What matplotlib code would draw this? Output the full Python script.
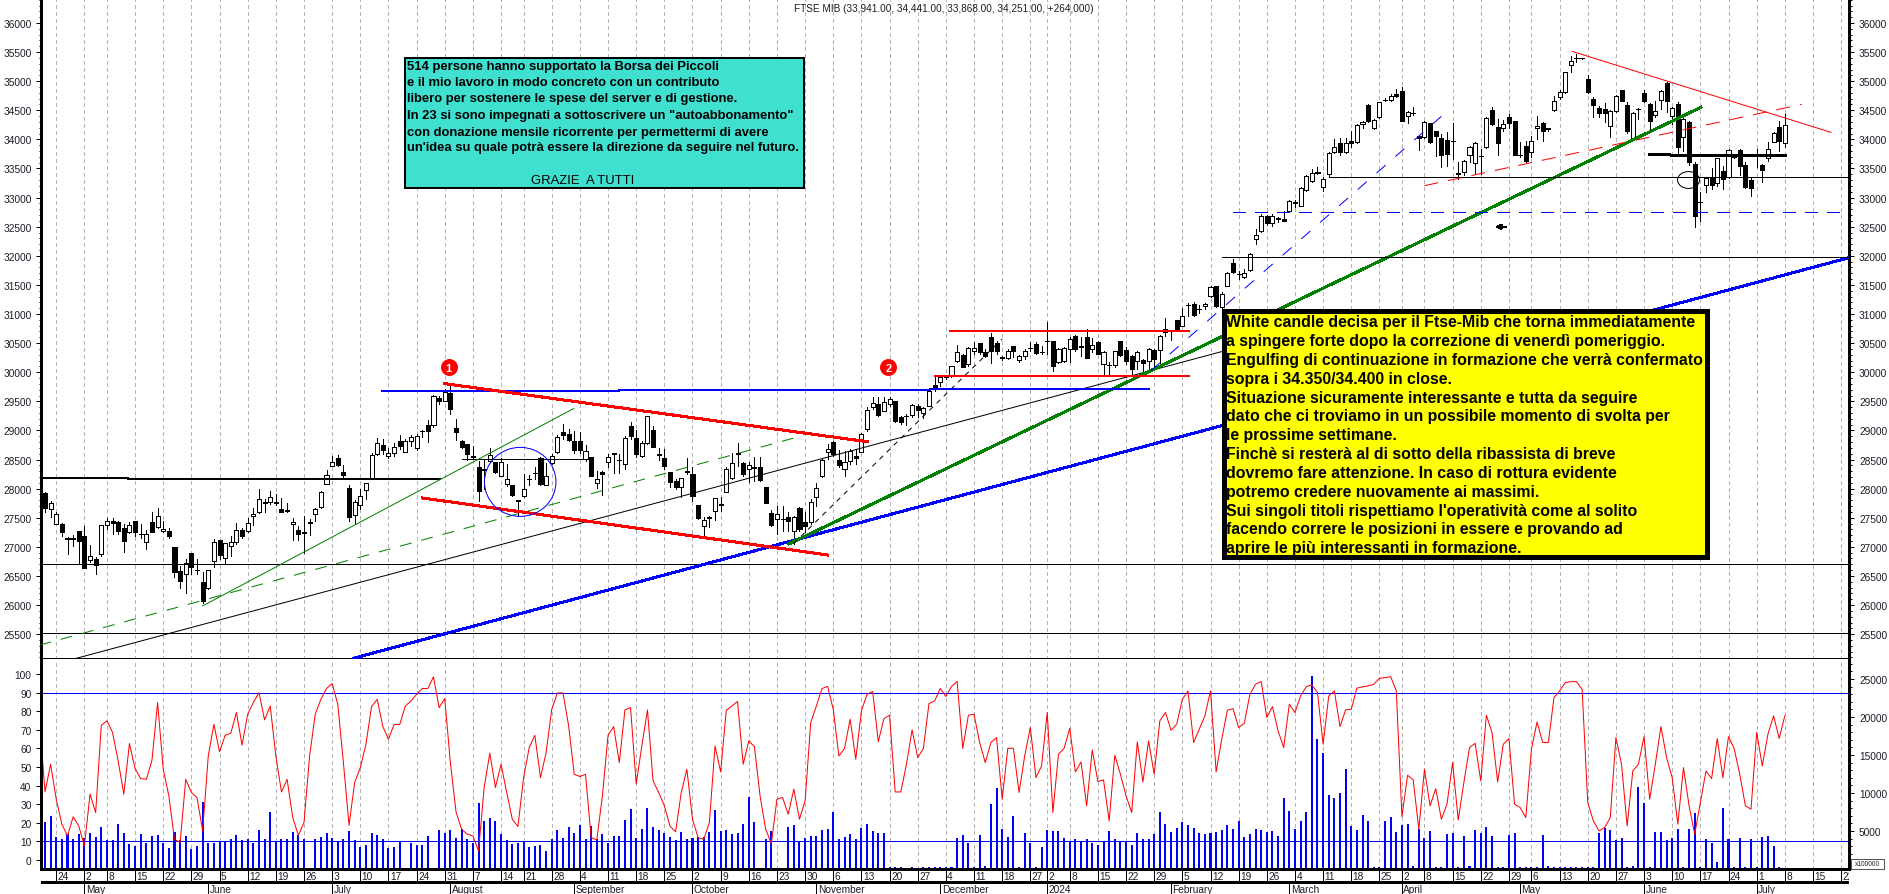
import numpy as np
from matplotlib import pyplot as plt
from matplotlib.patches import Ellipse, Rectangle

plt.rcParams['font.family'] = ['Liberation Sans', 'DejaVu Sans']
plt.rcParams['lines.antialiased'] = False
plt.rcParams['patch.antialiased'] = False

title = 'FTSE MIB (33,941.00, 34,441.00, 33,868.00, 34,251.00, +264,000)'

opens = [27930,27650,27400,27400,27150,27130,27270,27190,26780,26790,
    26880,27375,27445,27430,27330,27260,27450,27225,27075,27420,
    27340,27280,27270,26995,26585,26530,26890,26610,26400,26300,
    26760,27110,26800,27015,27075,27290,27275,27530,27590,27770,
    27770,27745,27650,27630,27385,27290,27255,27420,27570,27685,
    28085,28390,28520,28280,28005,27550,27720,27985,28190,28590,
    28755,28560,28620,28810,28635,28810,28705,28985,29100,29100,
    29550,29505,29640,29050,28825,28765,28560,28380,28335,28475,
    28450,28220,28075,28060,27800,27865,28160,28270,28520,28070,
    28435,28630,28980,28945,28825,28815,28515,28545,28105,28290,
    28450,28600,28495,28420,29080,28875,28555,28785,29007,28585,
    28520,28280,28137,28020,28300,28250,27720,27352,27520,27621,
    27730,27948,28177,28590,28440,28337,28370,28366,28022,27581,
    27478,27480,27507,27278,27662,27421,27432,27862,28223,28624,
    28795,28486,28337,28469,28566,28635,29024,29408,29454,29340,
    29454,29500,29225,29254,29271,29425,29299,29425,29780,29838,
    29920,29929,30187,30296,30141,30370,30496,30353,30599,30496,
    30256,30239,30456,30210,30273,30422,30485,30353,30536,30531,
    30170,30193,30399,30616,30445,30611,30399,30525,30141,30130,
    30124,30536,30382,30285,30187,30216,30199,30388,30382,30685,
    30710,30897,30800,31155,31172,31086,31132,31315,31475,31114,
    31487,31871,31687,31636,31762,32289,32432,32684,32563,32644,
    32632,32775,32918,32861,33136,33279,33434,33176,33405,33789,
    33932,33778,33978,33950,34259,34591,34196,34379,34683,34683,
    34786,34826,34396,34453,34064,34035,34276,34138,34018,33990,
    33972,33417,33434,33737,33589,33720,33864,34505,34207,34190,
    34390,34310,33732,33892,33778,34195,34282,34190,34505,34723,
    34808,35284,35398,35395,35037,34694,34539,34522,34236,34494,
    34849,34591,34007,34522,34791,34602,34425,34683,34969,34407,
    34608,34035,34304,33577,32921,33216,33348,33245,33463,33348,
    33709,33818,33566,33308,33738,33560,33674,33961,34207,33941]
closes = [27660,27760,27560,27260,27130,27160,27100,26640,26850,26690,
    27370,27440,27410,27270,27100,27375,27255,27215,27220,27255,
    27530,27315,27190,26560,26415,26730,26645,26600,26070,26600,
    27075,26855,27060,27075,27290,27190,27415,27570,27830,27760,
    27860,27770,27590,27610,27420,27220,27245,27410,27645,27945,
    28240,28465,28400,28230,27515,27775,27880,28090,28570,28780,
    28665,28610,28720,28735,28825,28880,28905,28990,28990,29590,
    29500,29660,29375,28975,28715,28590,28550,27960,28325,28580,
    28290,28450,28170,27885,27790,27995,28170,28260,28080,28225,
    28560,28895,28920,28835,28665,28660,28650,28220,28170,28255,
    28535,28605,28490,28875,28900,28595,28785,29240,28720,28600,
    28395,28120,28035,28177,28280,27880,27495,27460,27500,27833,
    27720,28338,28440,28610,28250,28412,28360,28154,27753,27375,
    27570,27470,27450,27518,27307,27352,27776,28005,28497,28687,
    28595,28412,28452,28652,28520,28944,29351,29471,29271,29494,
    29540,29168,29150,29240,29437,29351,29385,29683,29740,29912,
    29915,30101,30342,30084,30410,30422,30342,30285,30370,30370,
    30250,30370,30359,30273,30359,30416,30325,30347,30530,30113,
    30399,30422,30571,30399,30439,30244,30468,30313,30342,30125,
    30359,30296,30187,30055,30353,30158,30399,30227,30628,30742,
    30700,30731,30960,31150,30983,31086,31172,31458,31132,31344,
    31699,31716,31681,31704,32031,32363,32689,32563,32689,32640,
    32592,32947,32912,33159,33365,33417,33428,33319,33760,33875,
    33789,33938,33944,34253,34293,34322,34339,34637,34677,34751,
    34751,34322,34465,34447,34030,34304,33950,34052,33732,33749,
    33966,33411,33634,33875,33932,33720,34367,34264,33938,34259,
    34282,33738,33732,33623,33978,34236,34150,34170,34654,34808,
    35152,35352,35393,35390,34820,34596,34448,34453,34494,34751,
    34665,34150,34448,34520,34654,34310,34493,34826,34665,34534,
    33864,34350,33606,32678,32921,33331,33222,33674,33319,33823,
    33703,33548,33176,33159,33732,33480,33835,34104,33978,34251]
highs = [27940,27780,27590,27410,27170,27210,27280,27350,27030,26820,
    27380,27500,27500,27440,27390,27430,27450,27390,27290,27600,
    27670,27445,27325,27005,26670,26790,26890,26790,26560,26600,
    27130,27120,27060,27190,27405,27330,27500,27660,27990,27830,
    27960,27900,27840,27750,27500,27360,27530,27475,27675,27960,
    28320,28560,28575,28410,28065,27800,27990,28105,28610,28875,
    28850,28700,28790,28920,28850,28920,28935,29000,29180,29605,
    29595,29710,29795,29190,28830,28765,28730,28475,28505,28690,
    28460,28520,28420,28060,27810,28250,28230,28380,28535,28435,
    28590,28920,29105,29020,28990,28965,28745,28550,28305,28305,
    28600,28620,28590,28905,29140,29000,28825,29255,29080,28700,
    28680,28280,28165,28183,28520,28366,27720,27507,27535,27839,
    27850,28366,28612,28784,28452,28452,28538,28538,28022,27638,
    27696,27696,27593,27535,27679,27593,27822,28091,28520,28767,
    28824,28664,28652,28681,28681,28950,29397,29568,29568,29568,
    29580,29511,29254,29282,29454,29454,29408,29723,29912,29952,
    29930,30113,30468,30313,30428,30513,30496,30399,30668,30542,
    30285,30399,30456,30296,30399,30513,30513,30456,30857,30542,
    30416,30439,30599,30639,30599,30743,30582,30530,30359,30170,
    30370,30542,30428,30296,30370,30227,30410,30399,30639,30926,
    30725,30897,31097,31183,31212,31155,31189,31487,31475,31372,
    31716,31945,31745,31773,32043,32460,32718,32700,32718,32672,
    32775,32964,32959,33176,33388,33491,33520,33360,33778,34007,
    34018,34018,34150,34264,34310,34608,34350,34648,34711,34780,
    34866,34895,34493,34551,34064,34322,34282,34150,34093,34121,
    34282,33606,33646,33892,33949,33835,34379,34551,34350,34339,
    34436,34322,33949,33978,34064,34407,34293,34200,34751,34848,
    35164,35438,35467,35400,35106,34723,34579,34625,34511,34763,
    34855,34637,34465,34534,34854,34619,34665,34854,34980,34551,
    34637,34362,34322,33606,33102,33348,33503,33686,33548,33835,
    33720,33835,33606,33348,33835,33577,33961,34121,34322,34441]
lows = [27600,27510,27390,27180,26870,27010,26710,26640,26740,26530,
    26840,27300,27220,27220,26910,27235,27190,27150,26970,27255,
    27330,27255,27150,26490,26300,26205,26530,26530,26040,26280,
    26655,26785,26720,26845,27045,27150,27255,27370,27580,27590,
    27730,27715,27590,27590,27110,27115,26900,27200,27445,27675,
    28075,28390,28390,28200,27445,27385,27650,27830,28170,28575,
    28600,28530,28560,28680,28630,28735,28665,28880,28800,29065,
    29450,29505,29280,28840,28705,28490,28530,27790,27990,28450,
    28275,28210,28045,27875,27530,27850,28070,28170,28070,28065,
    28420,28620,28850,28820,28620,28620,28480,28220,28005,27890,
    28365,28275,28275,28335,28850,28550,28540,28770,28710,28500,
    28335,28022,27995,27850,28250,27793,27478,27180,27335,27461,
    27610,27936,28165,28395,28223,28108,28137,28125,27753,27364,
    27220,27278,27278,27049,27278,27249,27392,27707,28194,28510,
    28567,28366,28223,28423,28423,28623,28996,29368,29254,29328,
    29425,29139,29110,29093,29225,29225,29208,29425,29683,29757,
    29880,29912,30170,30084,30113,30313,30313,30256,30158,30313,
    30216,30227,30256,30170,30227,30370,30313,30313,30313,30027,
    30158,30170,30181,30370,30284,30244,30342,30313,29952,29952,
    30084,30285,30141,29970,30055,29970,30027,30084,30141,30628,
    30560,30731,30788,30971,30971,31012,31086,31286,31114,31097,
    31475,31704,31601,31613,31745,32203,32415,32530,32518,32575,
    32592,32764,32833,32850,33119,33262,33405,33119,33365,33766,
    33738,33766,33864,33932,34190,34304,34179,34368,34654,34654,
    34734,34310,34282,34419,33823,34018,33938,33720,33531,33548,
    33663,33319,33388,33606,33422,33405,33852,34247,33738,34150,
    34190,33732,33692,33606,33703,34007,33978,34150,34493,34694,
    34791,35164,35324,35385,34797,34379,34379,34293,34047,34476,
    34654,34104,33995,34350,34637,34150,34379,34522,34465,34264,
    33732,33806,33566,32489,32604,33102,33148,33205,33148,33337,
    33686,33388,33159,33033,33520,33274,33634,33949,33795,33868]

# first value belongs to the bar before the chart starts
osc = [76,
    36.6,51.5,32.7,19.2,12.9,23.2,18.3,7.5,35.4,25.5,
    72.5,74.9,68.6,53.3,35.4,62.7,49.2,43.8,43.4,53.7,
    84.7,48.8,34.5,11.1,9.3,43.4,36.3,33.6,15.6,56,
    73,58.2,67.1,68.2,79.4,61.8,78.5,84.7,90.1,75.4,
    82.9,56,36.6,43.4,22.8,13.3,20.1,56,78.5,86.5,
    92.3,95,83.8,52.4,18.7,41.7,49.7,62.3,82.6,86.5,
    71.8,65,72.9,72.9,82.9,85.6,89.2,92.3,92.3,98.6,
    82,86.9,52.4,25.9,16.5,13.8,12.9,4.8,39,57.5,
    39,51.5,36.3,21.9,18,44.3,60.5,67.1,44.3,57.8,
    81.1,89.9,89.9,72.2,46.1,44.9,46.1,12,10.8,34.5,
    67.1,71.8,52.4,80.8,82,
    40.8,61.4,80.8,42.5,36.3,29.1,18.3,15.1,36.3,48.8,
    21.9,12,11.1,20.1,61.4,47.4,80.6,82.9,85.3,51.5,
    64.1,61,34.5,16.5,8.8,32.7,33.6,24.6,38.1,21.9,
    31.8,74,82.9,92.3,93.4,81.1,56,60,75.8,54.2,
    80.3,89.2,90.7,63.6,76.1,77.9,36.6,36.6,51.5,70,
    55.1,60,84.2,85.6,92.3,88,93.4,96.1,60,77.9,
    78.5,63.2,52.4,63.2,65.9,32.7,60.1,60.1,36.3,56,
    71.3,44.3,50.6,79.4,25.5,56.9,60.1,70.9,47.4,52.8,
    29.1,59.2,42.2,43.1,21,56.4,46.1,34.5,25.5,63.6,
    42,64.1,46.1,74.9,79.4,69.8,73.1,86.5,91,63.2,
    70.4,77.6,91,47.4,65,80.6,81.5,71.3,73.6,89.2,
    94.6,96.1,
    76.7,82.6,69.5,60.5,83.8,79.4,88.3,93.2,94.3,90.1,
    62.3,88.3,91,71.8,80.8,81.1,92.5,93.2,93.7,94.6,
    97.8,98.2,98.7,91,23.2,45.6,43.1,16.5,48.8,29.1,
    38.4,21.9,30,52.4,21.5,41.7,60.5,62.8,42.5,77.9,
    68.6,42,62.3,65.4,30,28.2,22.8,59.6,74.3,63.2,
    63.2,87.4,91,95.5,96,96,91.9,30.9,21,15.6,
    17.4,22.8,65.9,51.5,18.3,47.9,51.5,66.4,32.7,51.5,
    71.8,55.1,44.3,19.2,49.7,29.1,13.8,30.9,47.9,43.8,
    65.4,44.3,66.4,60,46.1,29.1,27.3,68.6,50.6,67.7,
    77.6,65.4,77.6]

volume = [6195,6990,4200,3980,4650,3890,4650,4115,4780,4200,
    5530,3760,3760,5885,4735,3230,3010,4650,3410,4340,
    4425,3450,2745,4870,3760,4290,2655,3010,8760,3450,
    3450,3670,3670,3980,4425,3850,3980,3410,5130,3980,
    7520,3670,3980,3980,4870,4425,3980,90,3890,4250,
    4780,4070,3670,3940,5000,3760,2920,3190,4780,4510,
    3980,2790,2920,3670,90,3360,3190,3140,4340,90,
    5130,4780,5130,4115,5310,3980,3450,8630,6370,6770,
    6370,4600,3850,3320,3360,3670,2920,3050,3140,2430,
    3980,5180,4115,5530,4690,5840,3980,5660,3980,4600,
    3360,4340,4340,6500,7830,4070,5310,7965,5575,5180,
    4735,4250,3760,4870,3890,4070,4160,4160,4870,7700,
    5000,5180,4650,4780,5975,9425,6195,130,3980,5045,
    90,130,5575,5840,3670,4115,4380,4380,5180,5310,
    7520,3940,4200,4600,3940,5440,5975,5000,4780,4780,
    220,220,220,180,220,180,220,270,220,220,
    220,270,4115,4470,3450,270,4510,350,8585,10620,
    5310,4250,6990,270,4780,3410,270,2920,5090,5045,
    5000,4115,3670,3940,3670,3890,3360,3190,3540,5000,
    3980,3670,3670,3100,4780,3980,3940,4650,7520,5975,
    4870,5400,6195,5840,5400,4780,4600,4780,4910,5180,
    5750,5310,6370,4250,4600,5310,5180,4910,5000,4340,
    9290,7570,5265,6280,7520,25440,17080,15220,9780,9290,
    10045,13100,5660,5180,7170,6370,270,310,6370,6860,
    4870,5840,5975,350,5310,4115,5045,220,270,4650,
    4780,270,4340,400,5130,4780,5575,4380,220,270,
    4510,4780,270,270,270,270,4510,350,270,270,
    270,270,270,270,270,270,4780,5400,5130,3850,
    4115,270,400,10750,8720,270,4910,4910,3850,4115,
    5310,270,5310,7430,270,3980,3410,890,8050,3980,
    270,4115,270,3980,270,4250,4340,3010,270,130]

week_bars = [2,7,11,16,21,26,31,36,41,46,51,56,61,66,71,76,81,85,90,95,
    100,105,110,115,120,125,130,135,140,145,150,155,160,165,170,175,178,182,187,192,
    197,202,207,212,217,222,227,232,237,241,245,250,255,260,264,269,274,279,284,289,
    294,299,304,309,314,319]
week_labels = [24,2,8,15,22,29,5,12,19,26,3,10,17,24,31,7,14,21,28,4,
    11,18,25,2,9,16,23,30,6,13,20,27,4,11,18,27,2,8,15,22,
    29,5,12,19,26,4,11,18,25,2,8,15,22,29,6,13,20,27,3,10,
    17,24,1,8,15,22]
month_bars = [7,29,51,72,94,115,137,159,178,200,221,241,262,284,304]
month_labels = ['May','June','July','August','September','October','November','December',
    '2024','February','March','April','May','June','July']

# drawn lines: bars, prices, colour, width in px, dash on/off in px
trend_lines = [
    ([-1,14.8,14.8,70.2], [28185,28185,28162,28162], 'black', 2, None),
    ([-1,321], [26713,26713], 'black', 1, None),
    ([-1,321], [25520,25520], 'black', 1, None),
    ([74,96], [28517,28517], 'black', 1, None),
    ([28,93.9], [25985,29376], 'green', 1, None),
    ([-1,133.9], [25310,28893], 'green', 1, (12,10)),
    ([5.6,209.6], [25086,30370], 'black', 1, None),
    ([54.8,320.6], [25086,31973], 'blue', 2, None),
    ([132.1,294.1], [27049,34551], 'green', 2, None),
    ([59.8,101.9,101.9,157.1,157.1,196.1], [29674,29674,29690,29690,29712,29712], 'blue', 2, None),
    ([70.9,146], [29805,28807], 'red', 2, None),
    ([67,139], [27840,26860], 'red', 2, None),
    ([160.8,203.1], [30708,30708], 'red', 2, None),
    ([158,203.1], [29935,29935], 'red', 2, None),
    ([133,170], [27060,30571], 'black', 1, (5,5)),
    ([196.4,248], [30027,34396], 'blue', 1, (12,13)),
    ([209,321], [31974,31974], 'black', 1, None),
    ([228,321], [33348,33348], 'black', 1, None),
    ([211,321], [32747,32747], 'blue', 1, (12,10)),
    ([285,309.2], [33734,33720], 'black', 2, None),
    ([271.2,317.2], [35513,34121], 'red', 1, None),
    ([245,312], [33205,34602], 'red', 1, (14,10)),
]

cyan_lines = ['514 persone hanno supportato la Borsa dei Piccoli',
    'e il mio lavoro in modo concreto con un contributo',
    'libero per sostenere le spese del server e di gestione.',
    'In 23 si sono impegnati a sottoscrivere un "autoabbonamento"',
    'con donazione mensile ricorrente per permettermi di avere',
    "un'idea su quale potrà essere la direzione da seguire nel futuro."]
yellow_lines = ['White candle decisa per il Ftse-Mib che torna immediatamente',
    'a spingere forte dopo la correzione di venerdì pomeriggio.',
    'Engulfing di continuazione in formazione che verrà confermato',
    'sopra i 34.350/34.400 in close.',
    'Situazione sicuramente interessante e tutta da seguire',
    'dato che ci troviamo in un possibile momento di svolta per',
    'le prossime settimane.',
    'Finchè si resterà al di sotto della ribassista di breve',
    'dovremo fare attenzione. In caso di rottura evidente',
    'potremo credere nuovamente ai massimi.',
    'Sui singoli titoli rispettiamo l\'operatività come al solito',
    'facendo correre le posizioni in essere e provando ad',
    'aprire le più interessanti in formazione.']

W, H = 1890, 895

def px_axes(fig, x0, y0, x1, y1):
    return fig.add_axes([x0 / W, 1 - y1 / H, (x1 - x0) / W, (y1 - y0) / H])

fig = plt.figure(figsize=(W / 100, H / 100), dpi=100)
xlim = (-0.62, 320.4)
px = 0.72
tick_col = '#1c1c28'

ax = px_axes(fig, 41.5, 0, 1849, 660)
ax.set_xlim(xlim)
ax.set_ylim(25073, 36412)
ax.set_xticks([])
ax.set_yticks(np.arange(25500, 36001, 500))
ax.set_yticks(np.arange(25100, 36401, 100), minor=True)
ax.tick_params(axis='y', which='major', left=True, right=True, labelleft=True, labelright=True,
    length=3.6, width=px, pad=3.6, labelsize=7.3, labelcolor=tick_col)
ax.tick_params(axis='y', which='minor', left=True, right=True, length=1.8, width=px)
ax.spines['top'].set_visible(False)
ax.spines['bottom'].set_linewidth(1)
ax.spines['left'].set_linewidth(0.8)
ax.spines['right'].set_linewidth(0.8)
ax.vlines(week_bars, 25073, 36412, color='#b4b4b4', lw=px, linestyles=(0, (4, 4)), zorder=1)

x = np.arange(len(opens))
o, c = np.array(opens), np.array(closes)
ax.vlines(x, lows, highs, color='black', lw=px, zorder=3)
ax.bar(x, np.abs(c - o), bottom=np.minimum(o, c), width=0.72,
    color=['white' if b > a else 'black' for a, b in zip(o, c)],
    edgecolor='black', linewidth=px, zorder=3)

for xs, ys, col, width, dash in trend_lines:
    ls = '-' if dash is None else (0, dash)
    # one pixel slanted lines come out too heavy without antialiasing
    smooth = width == 1 and ys[0] != ys[-1]
    ax.plot(xs, ys, color=col, lw=width * px, ls=ls, antialiased=smooth, zorder=4)

ax.add_patch(Ellipse((84.4, 28116), 12.7, 1186, fill=False, edgecolor='blue', lw=px, antialiased=True, zorder=4))
ax.add_patch(Ellipse((291.9, 33302), 3.9, 290, fill=False, edgecolor='black', lw=px, antialiased=True, zorder=2))
ax.annotate('', xy=(257.2, 32500), xytext=(260, 32500), zorder=5,
    arrowprops=dict(arrowstyle='-|>', color='black', lw=1, mutation_scale=7))

for n, bar in [('1', 71.7), ('2', 149.8)]:
    ax.scatter([bar], [30085], s=125, color='red', zorder=5)
    ax.text(bar, 30080, n, color='white', fontsize=8, fontweight='bold', ha='center', va='center', zorder=6)

# lower panel: volume with the oscillator over it
ax_vol = px_axes(fig, 41.5, 660, 1849, 870)
ax_vol.set_xlim(xlim)
ax_vol.set_ylim(0, 27630)
ax_vol.set_xticks([])
ax_vol.vlines(week_bars, 0, 27630, color='#b4b4b4', lw=px, linestyles=(0, (4, 4)), zorder=1)
ax_vol.bar(x, volume, width=0.36, color='blue', zorder=2)

ax_osc = ax_vol.twinx()
ax_vol.yaxis.tick_right()
ax_osc.yaxis.tick_left()
ax_vol.set_yticks(np.arange(5000, 25001, 5000))
ax_vol.set_yticks(np.arange(1000, 27001, 1000), minor=True)
ax_vol.tick_params(axis='y', which='major', length=3.6, width=px, pad=3.6, labelsize=7.3, labelcolor=tick_col)
ax_vol.tick_params(axis='y', which='minor', length=1.8, width=px)
ax_vol.spines['top'].set_visible(False)
ax_vol.spines['bottom'].set_linewidth(1)

ax_osc.set_xlim(xlim)
ax_osc.set_ylim(-4.9, 108.2)
ax_osc.set_yticks(np.arange(0, 101, 10))
ax_osc.tick_params(axis='y', length=3.6, width=px, pad=3.6, labelsize=7.3, labelcolor=tick_col)
ax_osc.spines['top'].set_visible(False)
ax_osc.spines['bottom'].set_visible(False)
ax_osc.spines['left'].set_linewidth(0.8)
ax_osc.spines['right'].set_linewidth(0.8)
ax_osc.axhline(90, color='blue', lw=px)
ax_osc.axhline(10, color='blue', lw=px)
ax_osc.plot(np.arange(-1, len(osc) - 1), osc, color='red', lw=px, antialiased=True)

# date strip
ax_date = px_axes(fig, 41.5, 870, 1849, 895)
ax_date.set_xlim(xlim)
ax_date.set_ylim(25, 0)
ax_date.axis('off')
ax_date.vlines(week_bars, 0, 13, color='black', lw=px)
ax_date.hlines(13, xlim[0], xlim[1], color='black', lw=1)
ax_date.vlines(month_bars, 13, 25, color='black', lw=px)
for bar, lab in zip(week_bars, week_labels):
    ax_date.text(bar + 0.25, 7, str(lab), fontsize=7.3, color=tick_col, ha='left', va='center', clip_on=True)
for bar, lab in zip(month_bars, month_labels):
    ax_date.text(bar + 0.25, 20.5, lab, fontsize=7.3, color=tick_col, ha='left', va='center', clip_on=True)

# overlay in pixels for the text boxes and captions
ov = fig.add_axes([0, 0, 1, 1])
ov.set_xlim(0, W)
ov.set_ylim(H, 0)
ov.axis('off')
ov.patch.set_alpha(0)

ov.text(944, 8.5, title, fontsize=7.2, color='#1c1c28', ha='center', va='center')

ov.add_patch(Rectangle((405, 59), 399, 130, facecolor='#40e0d0', edgecolor='black', lw=1.4))
cyan_y = [66.7, 83.3, 99.3, 115.7, 132.7, 148.3]
for y, line in zip(cyan_y, cyan_lines):
    ov.text(407, y, line, fontsize=9.35, fontweight='bold', ha='left', va='center',
        family=['Liberation Sans Narrow', 'Liberation Sans'])
ov.text(531, 181, 'GRAZIE  A TUTTI', fontsize=9.35, ha='left', va='center',
    family=['Liberation Sans Narrow', 'Liberation Sans'])

ov.add_patch(Rectangle((1224, 312), 483, 246, facecolor='yellow', edgecolor='black', lw=2.2))
yellow_y = [322.3, 341.3, 360.7, 379.3, 398.3, 416.7, 435.3, 454.3, 473.7, 492.7, 511.3, 529.7, 548.7]
for y, line in zip(yellow_y, yellow_lines):
    ov.text(1226, y, line, fontsize=11.45, fontweight='bold', ha='left', va='center',
        family=['Liberation Sans Narrow', 'Liberation Sans'])

ov.add_patch(Rectangle((1851, 860), 33, 9.5, facecolor='white', edgecolor='#555555', lw=0.5))
ov.text(1867.5, 865, 'x100000', fontsize=4.8, color=tick_col, ha='center', va='center')

fig.savefig('out.png', dpi=100)
